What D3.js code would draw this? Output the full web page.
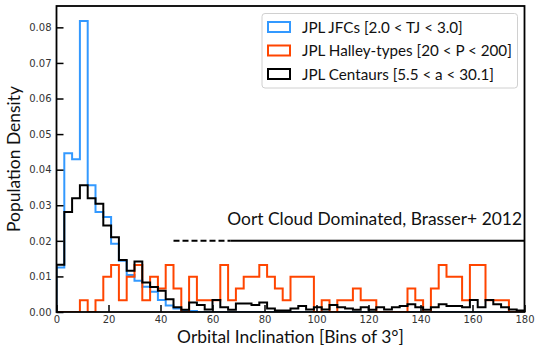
<!DOCTYPE html>
<html>
<head>
<meta charset="utf-8">
<script src="https://cdn.jsdelivr.net/npm/d3@7"></script>
<style>
  body { margin: 0; background: #fff; }
</style>
</head>
<body>
<svg id="chart" width="535" height="349"></svg>
<script>
// bins of 3 degrees in inclination (lower edges)
const binStarts = [0, 3, 6, 9, 12, 15, 18, 21, 24, 27, 30, 33, 36, 39, 42, 45, 48, 51, 54, 57,
  60, 63, 66, 69, 72, 75, 78, 81, 84, 87, 90, 93, 96, 99, 102, 105, 108, 111, 114, 117,
  120, 123, 126, 129, 132, 135, 138, 141, 144, 147, 150, 153, 156, 159, 162, 165, 168, 171, 174, 177];
const binWidth = 3;

const jfcDensity = [0.0125, 0.0446, 0.0429, 0.0818, 0.0356, 0.0281, 0.0267, 0.0192, 0.0144, 0.0104,
  0.0088, 0.0071, 0.0057, 0.0034, 0.0018, 0.0010, 0.0005, 0.0003, 0, 0,
  0, 0, 0, 0, 0, 0, 0, 0, 0, 0,
  0, 0, 0, 0, 0, 0, 0, 0, 0, 0,
  0, 0, 0, 0, 0, 0, 0, 0, 0, 0,
  0, 0, 0, 0, 0, 0, 0, 0, 0, 0];

const halleyDensity = [0, 0, 0, 0.0033, 0, 0.0033, 0.0099, 0.0132, 0.0033, 0.0099,
  0.0132, 0.0033, 0.0099, 0.0066, 0.0132, 0.0066, 0, 0.0099, 0.0033, 0.0033,
  0.0033, 0.0132, 0.0033, 0.0066, 0.0099, 0.0099, 0.0132, 0.0099, 0.0066, 0.0033,
  0.0099, 0.0099, 0.0099, 0, 0.0033, 0, 0.0033, 0.0033, 0.0066, 0.0033,
  0.0033, 0, 0, 0, 0, 0.0066, 0.0033, 0, 0.0066, 0.0132,
  0.0099, 0.0099, 0.0033, 0.0132, 0.0132, 0.0033, 0.0033, 0.0033, 0, 0];

const centaurDensity = [0.0133, 0.0281, 0.0320, 0.0356, 0.0320, 0.0304, 0.0243, 0.0210, 0.0146, 0.0116,
  0.0142, 0.0083, 0.0070, 0.0060, 0.0036, 0.0013, 0.0006, 0.0027, 0.0020, 0.0007,
  0.0034, 0.0013, 0.0006, 0.0024, 0.0024, 0.0020, 0.0027, 0.0010, 0.0004, 0.0004,
  0.0010, 0.0017, 0.0007, 0.0013, 0.0007, 0.0020, 0.0013, 0.0010, 0.0006, 0.0013,
  0.0006, 0.0013, 0.0007, 0.0013, 0.0017, 0.0022, 0.0013, 0.0006, 0.0013, 0.0022,
  0.0017, 0.0017, 0.0013, 0.0034, 0.0013, 0.0034, 0.0022, 0.0013, 0.0007, 0.0004];

const seriesLabels = ["JPL JFCs [2.0 < TJ < 3.0]", "JPL Halley-types [20 < P < 200]", "JPL Centaurs [5.5 < a < 30.1]"];
const seriesColors = ["#3399ff", "#ff4500", "#000000"];

const xTicks = [0, 20, 40, 60, 80, 100, 120, 140, 160, 180];
const yTicks = [0, 0.01, 0.02, 0.03, 0.04, 0.05, 0.06, 0.07, 0.08];

const oortDashed = [45, 67];
const oortSolid = [67, 180];
const oortLevel = 0.02;
const oortLabel = "Oort Cloud Dominated, Brasser+ 2012";

const font = "Lato, 'Open Sans', sans-serif";
const tickFont = "'DejaVu Sans', sans-serif";

const plot = { left: 56.5, right: 524.5, top: 6, bottom: 312 };

const svg = d3.select('#chart');

const x = d3.scaleLinear().domain([0, 180]).range([plot.left, plot.right]);
const y = d3.scaleLinear().domain([0, 0.086]).range([plot.bottom, plot.top]);

svg.append('clipPath').attr('id', 'clip')
  .append('rect')
  .attr('x', plot.left).attr('y', plot.top)
  .attr('width', plot.right - plot.left).attr('height', plot.bottom - plot.top);

// step outline like histtype='step'
function stepPoints(values) {
  const pts = [[binStarts[0], 0]];
  values.forEach((v, i) => {
    pts.push([binStarts[i], v]);
    pts.push([binStarts[i] + binWidth, v]);
  });
  pts.push([binStarts[binStarts.length - 1] + binWidth, 0]);
  return pts;
}

const line = d3.line().x(d => x(d[0])).y(d => y(d[1]));

const g = svg.append('g').attr('clip-path', 'url(#clip)');
[jfcDensity, halleyDensity, centaurDensity].forEach((vals, i) => {
  g.append('path')
    .attr('d', line(stepPoints(vals)))
    .attr('fill', 'none')
    .attr('stroke', seriesColors[i])
    .attr('stroke-width', 2)
    .attr('stroke-linejoin', 'miter');
});

// Oort cloud marker
svg.append('line')
  .attr('x1', x(oortDashed[0])).attr('x2', x(oortDashed[1]))
  .attr('y1', y(oortLevel)).attr('y2', y(oortLevel))
  .attr('stroke', '#000').attr('stroke-width', 2)
  .attr('stroke-dasharray', '6,3');
svg.append('line')
  .attr('x1', x(oortSolid[0])).attr('x2', x(oortSolid[1]))
  .attr('y1', y(oortLevel)).attr('y2', y(oortLevel))
  .attr('stroke', '#000').attr('stroke-width', 2);

function fitWidth(sel, target) {
  const w = sel.node().getComputedTextLength();
  const fs = parseFloat(sel.attr('font-size'));
  sel.attr('font-size', fs * target / w);
  return fs * target / w;
}

const oortText = svg.append('text')
  .attr('x', 522).attr('y', 225)
  .attr('text-anchor', 'end')
  .attr('font-family', font).attr('font-size', 18)
  .attr('fill', '#111')
  .text(oortLabel);
fitWidth(oortText, 295);

// axes
const xAxis = svg.append('g')
  .attr('transform', `translate(0,${plot.bottom})`)
  .call(d3.axisBottom(x).tickValues(xTicks).tickSizeInner(-7).tickSizeOuter(0).tickPadding(4));
const yAxis = svg.append('g')
  .attr('transform', `translate(${plot.left},0)`)
  .call(d3.axisLeft(y).tickValues(yTicks).tickSizeInner(-7).tickSizeOuter(0).tickPadding(5)
    .tickFormat(d3.format('.2f')));

[xAxis, yAxis].forEach(ax => {
  ax.select('.domain').remove();
  ax.selectAll('.tick line').attr('stroke', '#000').attr('stroke-width', 1.5);
  ax.selectAll('.tick text')
    .attr('font-family', tickFont).attr('font-size', 10).attr('fill', '#333');
});

svg.append('rect')
  .attr('x', plot.left).attr('y', plot.top)
  .attr('width', plot.right - plot.left).attr('height', plot.bottom - plot.top)
  .attr('fill', 'none').attr('stroke', '#000').attr('stroke-width', 1.8);

// axis titles
const xTitle = svg.append('text')
  .attr('x', (plot.left + plot.right) / 2).attr('y', 343)
  .attr('text-anchor', 'middle')
  .attr('font-family', font).attr('font-size', 16).attr('fill', '#111')
  .text('Orbital Inclination [Bins of 3°]');
const titleSize = fitWidth(xTitle, 227);

svg.append('text')
  .attr('transform', `translate(20,${(plot.top + plot.bottom) / 2}) rotate(-90)`)
  .attr('text-anchor', 'middle')
  .attr('font-family', font).attr('font-size', titleSize).attr('fill', '#111')
  .text('Population Density');

// legend
const legend = svg.append('g');
legend.append('rect')
  .attr('x', 262).attr('y', 13.5)
  .attr('width', 517.5 - 262).attr('height', 88 - 13.5)
  .attr('rx', 3)
  .attr('fill', '#fff').attr('fill-opacity', 0.8)
  .attr('stroke', '#d0d0d0').attr('stroke-width', 1);

const rowY = [27, 50.5, 74];
const labels = seriesLabels.map((lab, i) => {
  legend.append('rect')
    .attr('x', 268).attr('y', rowY[i] - 5)
    .attr('width', 22).attr('height', 10)
    .attr('fill', 'none').attr('stroke', seriesColors[i]).attr('stroke-width', 2);
  return legend.append('text')
    .attr('x', 302).attr('y', rowY[i] + 5.5)
    .attr('font-family', font).attr('font-size', 15).attr('fill', '#111')
    .text(lab);
});
const legendSize = fitWidth(labels[1], 210);
labels.forEach(t => t.attr('font-size', legendSize));
</script>
</body>
</html>
